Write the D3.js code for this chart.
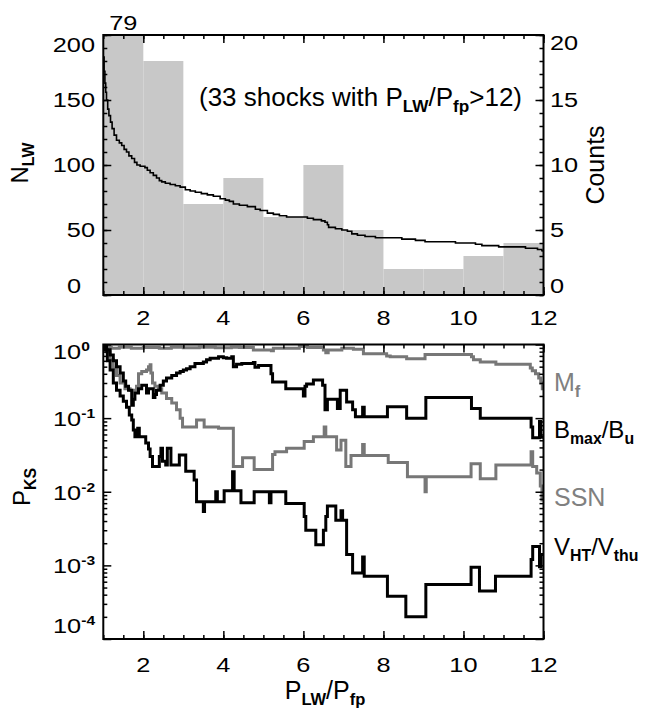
<!DOCTYPE html>
<html lang="en">
<head>
<meta charset="UTF-8"/>
<title>N_LW and P_KS against P_LW/P_fp</title>
<script src="https://d3js.org/d3.v7.min.js"></script>
<style>
    body { margin: 0; background: #fff; }
    svg text { font-family: "Liberation Sans", Arial, Helvetica, sans-serif; fill: #000; }
    .frame { fill: none; stroke: #000; stroke-width: 2; }
    .tick line { stroke: #000; stroke-width: 1.5; }
    .domain { display: none; }
    .nlw { fill: none; stroke: #000; stroke-width: 1.6; }
    .pks { fill: none; stroke-width: 3; stroke-linejoin: miter; }
</style>
</head>
<body>
<div id="chart"></div>
<script>
// ---- data ----
// histogram of P_LW/P_fp (counts, right axis of top panel)
var binEdges = [1, 2, 3, 4, 5, 6, 7, 8, 9, 10, 11, 12];
var binCounts = [79, 18, 7, 9, 6, 10, 5, 2, 2, 3, 4];

// N_LW : number of shocks with P_LW/P_fp above x (step curve)
var nlwData = [
    [1.00, 183], [1.02, 172], [1.04, 163], [1.06, 156], [1.08, 150], [1.11, 143],
    [1.14, 138], [1.18, 133], [1.22, 128], [1.27, 123], [1.33, 119], [1.40, 117],
    [1.46, 115], [1.52, 112], [1.58, 110], [1.64, 107], [1.71, 105], [1.78, 102],
    [1.84, 100], [1.92, 99], [2.04, 98], [2.10, 96], [2.17, 94], [2.25, 92],
    [2.33, 90], [2.40, 88], [2.46, 87], [2.55, 86], [2.67, 85], [2.80, 84],
    [2.92, 83], [3.05, 81], [3.17, 80], [3.30, 79], [3.45, 78], [3.60, 77],
    [3.75, 76], [3.92, 74], [4.05, 73], [4.15, 72], [4.25, 70], [4.40, 69],
    [4.60, 68], [4.80, 66], [4.92, 65], [5.10, 63], [5.25, 62], [5.40, 61],
    [5.58, 60], [6.10, 59], [6.25, 58], [6.45, 57], [6.54, 56], [6.60, 54],
    [6.63, 52], [6.80, 51], [6.96, 50], [7.10, 49], [7.21, 47], [7.35, 46],
    [7.54, 45], [7.80, 44], [8.46, 43], [8.80, 42], [9.04, 41], [9.80, 40],
    [10.30, 39], [10.46, 38], [10.88, 37], [11.55, 36], [11.85, 35], [11.96, 34],
    [12.00, 33]
];

// P_KS curves (step curves, bottom panel)
var mfData = [
    [1.00, 1.0], [1.05, 0.92], [1.20, 0.89], [1.40, 0.92], [1.70, 0.89], [2.00, 0.91],
    [2.40, 0.89], [2.70, 0.92], [3.00, 0.90], [3.40, 0.92], [3.80, 0.90], [4.20, 0.92],
    [4.40, 0.91], [4.75, 0.84], [5.20, 0.82], [5.25, 0.89], [5.90, 0.94], [6.10, 0.91],
    [6.50, 0.84], [6.56, 0.77], [6.62, 0.84], [6.96, 0.89], [7.25, 0.86], [7.50, 0.75],
    [8.08, 0.70], [8.17, 0.68], [8.58, 0.64], [9.04, 0.73], [10.20, 0.68], [10.25, 0.62],
    [10.42, 0.58], [10.81, 0.54], [11.67, 0.48], [11.72, 0.44], [11.80, 0.40], [11.88, 0.35],
    [11.93, 0.30], [11.97, 0.25], [12.00, 0.25]
];
var bmaxData = [
    [1.00, 1.0], [1.08, 0.85], [1.17, 0.72], [1.25, 0.60], [1.33, 0.50], [1.42, 0.41],
    [1.50, 0.32], [1.56, 0.27], [1.63, 0.24], [1.71, 0.15], [1.75, 0.18], [1.79, 0.22],
    [1.88, 0.25], [1.96, 0.28], [2.08, 0.22], [2.13, 0.25], [2.25, 0.19], [2.29, 0.21],
    [2.33, 0.24], [2.42, 0.28], [2.50, 0.32], [2.58, 0.35], [2.71, 0.38], [2.83, 0.41],
    [2.92, 0.43], [3.00, 0.45], [3.08, 0.47], [3.17, 0.50], [3.29, 0.55], [3.50, 0.58],
    [3.58, 0.62], [3.67, 0.65], [3.88, 0.68], [4.00, 0.66], [4.08, 0.65], [4.21, 0.68],
    [4.25, 0.50], [4.33, 0.54], [4.46, 0.55], [4.75, 0.57], [4.79, 0.49], [4.88, 0.52],
    [5.19, 0.40], [5.23, 0.31], [5.56, 0.25], [6.00, 0.20], [6.04, 0.27], [6.08, 0.29],
    [6.25, 0.33], [6.48, 0.28], [6.54, 0.13], [6.60, 0.18], [6.85, 0.135], [6.92, 0.24],
    [7.08, 0.165], [7.23, 0.13], [7.30, 0.104], [7.48, 0.14], [7.52, 0.104], [8.10, 0.143],
    [8.58, 0.10], [9.06, 0.19], [10.20, 0.135], [10.42, 0.10], [11.69, 0.076], [11.73, 0.054],
    [11.90, 0.09], [11.93, 0.055], [12.00, 0.055]
];
var ssnData = [
    [1.00, 1.0], [1.08, 0.80], [1.17, 0.62], [1.25, 0.48], [1.33, 0.38], [1.42, 0.30],
    [1.54, 0.25], [1.67, 0.24], [1.83, 0.27], [1.88, 0.40], [1.96, 0.43], [2.08, 0.45],
    [2.13, 0.50], [2.17, 0.53], [2.19, 0.41], [2.23, 0.30], [2.29, 0.27], [2.38, 0.25],
    [2.46, 0.22], [2.58, 0.185], [2.71, 0.16], [2.83, 0.13], [2.92, 0.10], [2.98, 0.076],
    [3.33, 0.094], [3.52, 0.076], [3.88, 0.073], [4.25, 0.022], [4.48, 0.029], [4.77, 0.020],
    [5.23, 0.032], [5.29, 0.035], [5.58, 0.039], [6.02, 0.048], [6.25, 0.056], [6.52, 0.076],
    [6.56, 0.056], [6.83, 0.037], [6.94, 0.050], [7.06, 0.022], [7.19, 0.031], [7.48, 0.044],
    [7.52, 0.031], [8.12, 0.025], [8.60, 0.016], [9.04, 0.010], [9.07, 0.016], [10.19, 0.024],
    [10.42, 0.015], [10.81, 0.023], [11.69, 0.035], [11.73, 0.022], [11.83, 0.018], [11.92, 0.012],
    [11.96, 0.0077], [12.00, 0.0077]
];
var vhtData = [
    [1.00, 1.0], [1.04, 0.84], [1.10, 0.60], [1.17, 0.45], [1.25, 0.30], [1.33, 0.24],
    [1.42, 0.20], [1.50, 0.17], [1.58, 0.14], [1.65, 0.11], [1.71, 0.094], [1.75, 0.069],
    [1.79, 0.056], [1.86, 0.073], [1.90, 0.056], [2.06, 0.046], [2.13, 0.038], [2.17, 0.030],
    [2.23, 0.022], [2.40, 0.030], [2.44, 0.039], [2.48, 0.026], [2.56, 0.023], [2.60, 0.039],
    [2.69, 0.023], [2.90, 0.0315], [3.06, 0.019], [3.27, 0.0144], [3.33, 0.0073], [3.50, 0.0054],
    [3.53, 0.0073], [3.81, 0.010], [3.85, 0.0073], [4.02, 0.0103], [4.23, 0.0187], [4.27, 0.0103],
    [4.44, 0.0071], [4.77, 0.010], [5.15, 0.0071], [5.19, 0.010], [5.56, 0.0069], [6.02, 0.0046],
    [6.06, 0.0030], [6.31, 0.0019], [6.50, 0.0030], [6.56, 0.0046], [6.60, 0.0064], [6.81, 0.0041],
    [6.94, 0.0055], [6.98, 0.0041], [7.08, 0.0014], [7.23, 0.00079], [7.48, 0.0013], [7.52, 0.00071],
    [8.10, 0.00038], [8.56, 0.00020], [9.06, 0.00055], [10.19, 0.00094], [10.40, 0.00045], [10.80, 0.00071],
    [11.69, 0.0012], [11.73, 0.0018], [11.90, 0.00096], [11.94, 0.0014], [12.00, 0.0014]
];

// tick values
var xMajor = [2, 4, 6, 8, 10, 12];
var xMinor = d3.range(1, 12.01, 0.5);
var nMajor = [0, 50, 100, 150, 200];
var nMinor = d3.range(0, 201, 10);
var cMajor = [0, 5, 10, 15, 20];
var logMajor = [-4, -3, -2, -1, 0];

var w = 645, h = 710;
var left = 103.3, right = 543.5;
var topA = 35, botA = 295;      // top panel
var topB = 344.5, botB = 639;   // bottom panel
var stretch = 1.3;              // tick labels are wide in the original

var svg = d3.select("#chart").append("svg")
    .attr("width", w).attr("height", h);

var x = d3.scaleLinear().domain([1, 12]).range([left, right]);
var yN = d3.scaleLinear().domain([0, 200]).range([botA, topA]);
var yC = d3.scaleLinear().domain([0, 20]).range([botA, topA]).clamp(true);
var yP = d3.scaleLog().domain([1e-4, 1]).range([botB, topB]);

var logMinor = [];
logMajor.forEach(function(e) {
    if (e < 0) d3.range(2, 10).forEach(function(k) { logMinor.push(k * Math.pow(10, e)); });
});

// clip paths
var defs = svg.append("defs");
defs.append("clipPath").attr("id", "clipA").append("rect")
    .attr("x", left).attr("y", topA).attr("width", right - left).attr("height", botA - topA);
defs.append("clipPath").attr("id", "clipB").append("rect")
    .attr("x", left).attr("y", topB).attr("width", right - left).attr("height", botB - topB);

// ---------- top panel ----------
var gA = svg.append("g").attr("clip-path", "url(#clipA)");
gA.selectAll("rect.bar")
    .data(binCounts)
    .enter().append("rect")
    .attr("class", "bar")
    .attr("x", (d, i) => x(binEdges[i]))
    .attr("width", (d, i) => x(binEdges[i + 1]) - x(binEdges[i]))
    .attr("y", d => yC(d))
    .attr("height", d => yC(0) - yC(d))
    .attr("fill", "#c8c8c8");

var nLine = d3.line()
    .x(d => x(d[0]))
    .y(d => yN(d[1]))
    .curve(d3.curveStepAfter);
gA.append("path").datum(nlwData).attr("class", "nlw").attr("d", nLine);

// ---------- bottom panel ----------
var gB = svg.append("g").attr("clip-path", "url(#clipB)");
var pLine = d3.line()
    .x(d => x(d[0]))
    .y(d => yP(d[1]))
    .curve(d3.curveStepAfter);
var series = [
    { data: mfData, color: "#777777" },
    { data: ssnData, color: "#777777" },
    { data: bmaxData, color: "#000000" },
    { data: vhtData, color: "#000000" }
];
series.forEach(function(s) {
    gB.append("path").datum(s.data).attr("class", "pks")
        .attr("stroke", s.color).attr("d", pLine);
});

// ---------- ticks (inward, both panels, all sides) ----------
function ticks(axisFn, scale, vals, len, tx, ty) {
    svg.append("g")
        .attr("transform", `translate(${tx},${ty})`)
        .call(axisFn(scale).tickValues(vals).tickSize(-len).tickFormat(""));
}
[[topA, botA], [topB, botB]].forEach(function(p) {
    ticks(d3.axisBottom, x, xMinor, 4, 0, p[1]);
    ticks(d3.axisBottom, x, xMajor, 8, 0, p[1]);
    ticks(d3.axisTop, x, xMinor, 4, 0, p[0]);
    ticks(d3.axisTop, x, xMajor, 8, 0, p[0]);
});
ticks(d3.axisLeft, yN, nMinor, 4, left, 0);
ticks(d3.axisLeft, yN, nMajor, 8, left, 0);
ticks(d3.axisRight, yN, nMinor, 4, right, 0);
ticks(d3.axisRight, yC, cMajor, 8, right, 0);
var decades = logMajor.map(e => Math.pow(10, e));
ticks(d3.axisLeft, yP, logMinor, 4, left, 0);
ticks(d3.axisLeft, yP, decades, 8, left, 0);
ticks(d3.axisRight, yP, logMinor, 4, right, 0);
ticks(d3.axisRight, yP, decades, 8, right, 0);

svg.append("rect").attr("class", "frame")
    .attr("x", left).attr("y", topA).attr("width", right - left).attr("height", botA - topA);
svg.append("rect").attr("class", "frame")
    .attr("x", left).attr("y", topB).attr("width", right - left).attr("height", botB - topB);

// ---------- text helpers ----------
function wideText(px, py, anchor, str, size) {
    return svg.append("text")
        .attr("transform", `translate(${px},${py}) scale(${stretch},1)`)
        .attr("text-anchor", anchor)
        .style("font-size", size + "px")
        .text(str);
}
// text with subscripts: parts = [[text, isSub], ...]
function subText(px, py, anchor, parts, size, rot, color) {
    var t = svg.append("text")
        .attr("transform", `translate(${px},${py})` + (rot ? " rotate(-90)" : ""))
        .attr("text-anchor", anchor)
        .style("font-size", size + "px")
        .style("fill", color || "#000");
    var shift = 0;
    parts.forEach(function(p) {
        var dy = p[1] ? 6 - shift : -shift;
        shift = p[1] ? 6 : 0;
        t.append("tspan").attr("dy", dy)
            .style("font-size", p[1] ? (size * 0.66) + "px" : null)
            .style("font-weight", p[1] ? "bold" : null)
            .text(p[0]);
    });
    return t;
}

// tick labels
var clampY = (v, a, b) => Math.max(a, Math.min(b, v));
nMajor.forEach(function(v) {
    var yy = clampY(yN(v), topA + 10, botA - 9) + 7;
    if (v === 0) wideText(67, yy, "start", "0", 19.5);
    else wideText(95, yy, "end", String(v), 19.5);
});
cMajor.forEach(function(v) {
    var yy = clampY(yC(v), topA + 8, botA - 9) + 7;
    wideText(550, yy, "start", String(v), 19.5);
});
xMajor.forEach(function(v) {
    wideText(x(v), botA + 30, "middle", String(v), 19.5);
    wideText(x(v), botB + 33, "middle", String(v), 19.5);
});
logMajor.forEach(function(e) {
    var yy = clampY(yP(Math.pow(10, e)) + 1, topB + 7, botB - 13) + 7;
    var t = svg.append("text")
        .attr("transform", `translate(53,${yy}) scale(${stretch},1)`)
        .style("font-size", "19.5px");
    t.append("tspan").text("10");
    t.append("tspan").attr("dy", -8).style("font-size", "12px").style("font-weight", "bold")
        .text(e === 0 ? "0" : "-" + (-e));
});
wideText(x(1.5), 30, "middle", String(binCounts[0]), 19.5);

// axis titles
subText(28, 163, "middle", [["N", 0], ["LW", 1]], 24, true);
svg.append("text")
    .attr("transform", "translate(604,165) rotate(-90)")
    .attr("text-anchor", "middle")
    .style("font-size", "25px")
    .text("Counts");
subText(30, 487, "middle", [["P", 0], ["KS", 1]], 24, true);
subText(325, 699, "middle", [["P", 0], ["LW", 1], ["/P", 0], ["fp", 1]], 25);
subText(199, 106, "start",
    [["(33 shocks with P", 0], ["LW", 1], ["/P", 0], ["fp", 1], [">12)", 0]], 26);

// series labels
subText(554, 391, "start", [["M", 0], ["f", 1]], 25, false, "#808080");
subText(554, 438, "start", [["B", 0], ["max", 1], ["/B", 0], ["u", 1]], 24);
subText(554, 506, "start", [["SSN", 0]], 25, false, "#808080");
subText(554, 555, "start", [["V", 0], ["HT", 1], ["/V", 0], ["thu", 1]], 24);
</script>
</body>
</html>
